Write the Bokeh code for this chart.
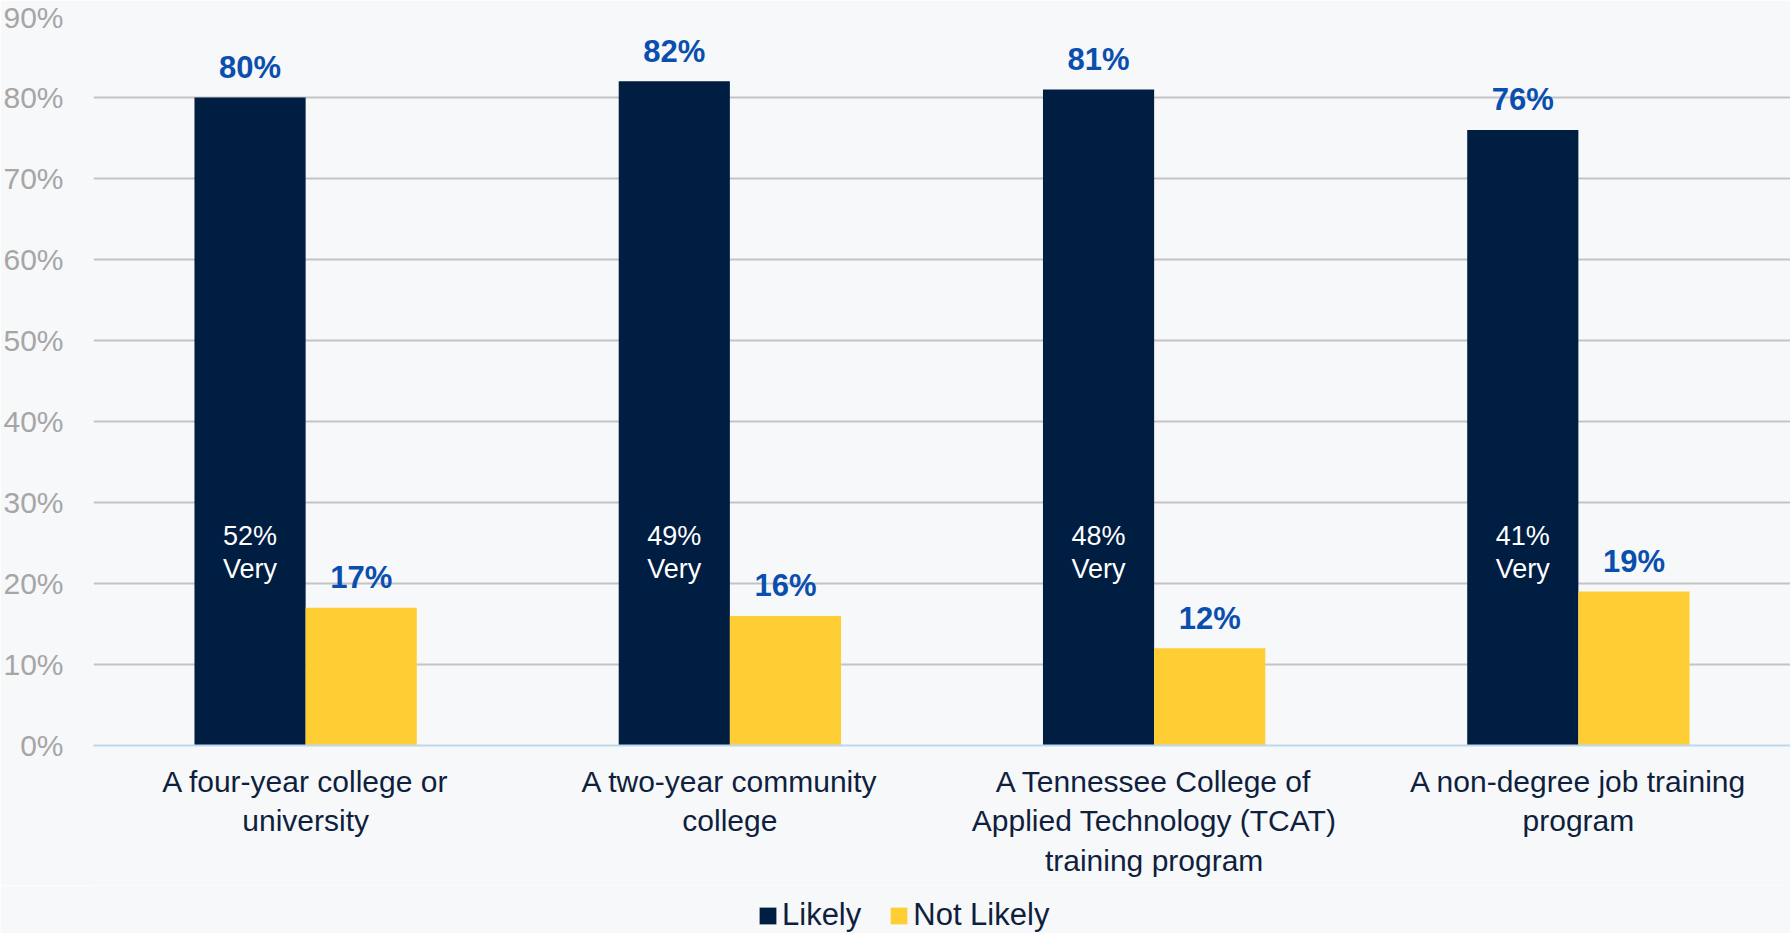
from bokeh.plotting import figure
from bokeh.layouts import column
from bokeh.models import ColumnDataSource, FactorRange, FixedTicker, Legend, LegendItem, CustomJSTickFormatter
from bokeh.transform import dodge
from bokeh.core.properties import value
from bokeh.embed import file_html
from bokeh.resources import INLINE

categories = [
    "A four-year college or\nuniversity",
    "A two-year community\ncollege",
    "A Tennessee College of\nApplied Technology (TCAT)\ntraining program",
    "A non-degree job training\nprogram",
]
likely = [80, 82, 81, 76]
not_likely = [17, 16, 12, 19]
very = [52, 49, 48, 41]
y_ticks = [0, 10, 20, 30, 40, 50, 60, 70, 80, 90]
series_names = ["Likely", "Not Likely"]

BG = "#F7F8FA"
NAVY = "#001D42"
GOLD = "#FFCE34"
BLUE = "#0B4FAE"
LABEL = "#0F1F3D"
FONT = "Liberation Sans"

src = ColumnDataSource(dict(
    cat=categories,
    likely=likely,
    not_likely=not_likely,
    likely_lbl=[f"{v}%" for v in likely],
    not_lbl=[f"{v}%" for v in not_likely],
    very_lbl=[f"{v}%" for v in very],
    very_word=["Very"] * len(very),
    very_y=[23.8] * len(very),
))

W = 1790
H_MAIN = 885
H_LEG = 48
LEFT = 93

p = figure(
    x_range=FactorRange(*categories, range_padding=0),
    y_range=(0, 90),
    width=W, height=H_MAIN,
    output_backend="svg", toolbar_location=None,
    min_border_left=LEFT, min_border_right=0, min_border_top=16, min_border_bottom=H_MAIN - 745,
    background_fill_color=BG, border_fill_color=BG,
)
p.outline_line_color = None

bw = 0.262
p.vbar(x=dodge("cat", -bw / 2, range=p.x_range), top="likely", width=bw,
       source=src, fill_color=NAVY, line_color=None)
p.vbar(x=dodge("cat", bw / 2, range=p.x_range), top="not_likely", width=bw,
       source=src, fill_color=GOLD, line_color=None)

p.text(x=dodge("cat", -bw / 2, range=p.x_range), y="likely", text="likely_lbl", source=src,
       text_font=value(FONT), text_font_style="bold", text_font_size="31px",
       text_color=BLUE, text_align="center", text_baseline="alphabetic", y_offset=-30)
p.text(x=dodge("cat", bw / 2, range=p.x_range), y="not_likely", text="not_lbl", source=src,
       text_font=value(FONT), text_font_style="bold", text_font_size="31px",
       text_color=BLUE, text_align="center", text_baseline="alphabetic", y_offset=-30)
p.text(x=dodge("cat", -bw / 2, range=p.x_range), y="very_y", text="very_lbl", source=src,
       text_font=value(FONT), text_font_size="27px",
       text_color="white", text_align="center", text_baseline="middle", y_offset=-17)
p.text(x=dodge("cat", -bw / 2, range=p.x_range), y="very_y", text="very_word", source=src,
       text_font=value(FONT), text_font_size="27px",
       text_color="white", text_align="center", text_baseline="middle", y_offset=16)

# axes
p.yaxis.ticker = FixedTicker(ticks=y_ticks)
p.yaxis.formatter = CustomJSTickFormatter(code="return tick + '%';")
p.yaxis.axis_line_color = None
p.yaxis.major_tick_line_color = None
p.yaxis.minor_tick_line_color = None
p.yaxis.major_tick_out = 0
p.yaxis.major_label_standoff = 30
p.yaxis.major_label_text_font = FONT
p.yaxis.major_label_text_font_size = "30px"
p.yaxis.major_label_text_color = "#A6A6A6"

p.xaxis.axis_line_color = "#BDD7EE"
p.xaxis.axis_line_width = 2
p.xaxis.major_tick_line_color = None
p.xaxis.minor_tick_line_color = None
p.xaxis.major_tick_out = 0
p.xaxis.major_label_standoff = 19
p.xaxis.major_label_text_font = FONT
p.xaxis.major_label_text_font_size = "30px"
p.xaxis.major_label_text_color = LABEL

p.xgrid.grid_line_color = None
p.ygrid.grid_line_color = "#C4C4C4"
p.ygrid.grid_line_width = 2

# legend strip below the chart
q = figure(width=W, height=H_LEG, output_backend="svg", toolbar_location=None,
           x_axis_type=None, y_axis_type=None, x_range=(0, 1), y_range=(0, 1),
           min_border_left=LEFT, min_border_right=0, min_border_top=0, min_border_bottom=0,
           background_fill_color=BG, border_fill_color=BG)
q.outline_line_color = None
q.grid.visible = False
swatch = ColumnDataSource(dict(x=[-5], top=[0]))  # off-range swatch holders for legend
l1 = q.vbar(x="x", top="top", width=0.1, source=swatch, fill_color=NAVY, line_color=None)
l2 = q.vbar(x="x", top="top", width=0.1, source=swatch, fill_color=GOLD, line_color=None)
legend = Legend(
    items=[LegendItem(label=series_names[0], renderers=[l1]),
           LegendItem(label=series_names[1], renderers=[l2])],
    location=(757 - LEFT, 0), orientation="horizontal",
    background_fill_alpha=0, border_line_color=None,
    label_text_font=FONT, label_text_font_size="31px", label_text_color=LABEL,
    glyph_width=21, glyph_height=21, label_standoff=4, spacing=27,
    padding=0, margin=0,
)
q.add_layout(legend, "center")

layout = column(p, q, spacing=0)
open("out.html", "w").write(file_html(layout, INLINE))
